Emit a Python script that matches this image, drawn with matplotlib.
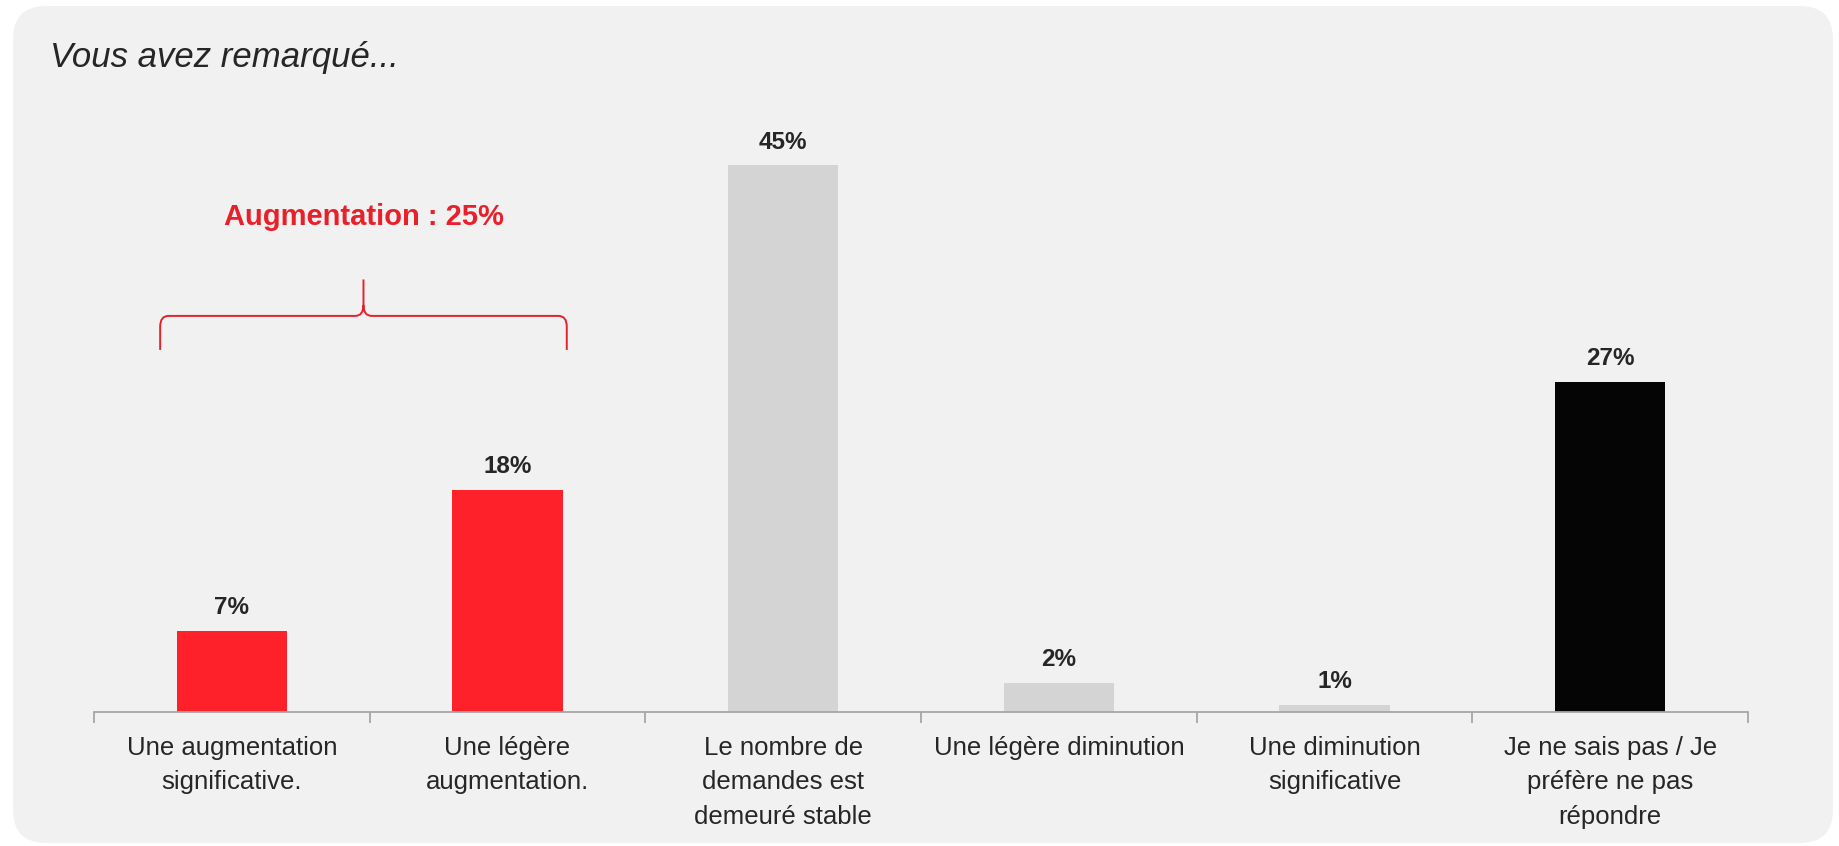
import matplotlib.pyplot as plt
import numpy as np
from matplotlib.patches import FancyBboxPatch, PathPatch
from matplotlib.path import Path

categories = ["Une augmentation\nsignificative.",
              "Une légère\naugmentation.",
              "Le nombre de\ndemandes est\ndemeuré stable",
              "Une légère diminution",
              "Une diminution\nsignificative",
              "Je ne sais pas / Je\npréfère ne pas\nrépondre"]
values = [6.7, 18.3, 45, 2.4, 0.6, 27.2]
colors = ["#ff2129", "#ff2129", "#d4d4d4", "#d4d4d4", "#d4d4d4", "#050505"]
group_label = "Augmentation : 25%"

W, H = 1840, 846
fig = plt.figure(figsize=(W / 100, H / 100), dpi=100, facecolor="white")

# rounded grey panel behind everything
panel = FancyBboxPatch((13 / W, 3 / H), 1820 / W, 837 / H,
                       boxstyle="round,pad=0,rounding_size=0.018",
                       transform=fig.transFigure, facecolor="#f1f1f1",
                       edgecolor="none", mutation_aspect=W / H, zorder=-10)
fig.patches.append(panel)

ax = fig.add_axes([94 / W, 134 / H, (1748 - 94) / W, 607.5 / H])
ax.set_facecolor("none")

x = np.arange(len(values))
ax.bar(x, values, width=0.4, color=colors)
ax.set_xlim(-0.5, len(values) - 0.5)
ax.set_ylim(0, 50)

for xi, v in zip(x, values):
    ax.annotate(f"{v:.0f}%", (xi, v), xytext=(0, 12), textcoords="offset points",
                ha="center", va="baseline", fontsize=17.5, fontweight="bold",
                color="#262626", family="Liberation Sans")

for s in ["top", "right", "left"]:
    ax.spines[s].set_visible(False)
ax.spines["bottom"].set_color("#a6a6a6")
ax.spines["bottom"].set_linewidth(1.3)
ax.set_yticks([])

ax.set_xticks(np.arange(-0.5, len(values)), minor=False)
ax.set_xticklabels([])
ax.tick_params(axis="x", which="major", length=8, width=1.3, color="#a6a6a6",
               direction="out")
ax.set_xticks(x, minor=True)
ax.set_xticklabels(categories, minor=True, fontsize=18.5,
                   family="Liberation Sans", color="#262626",
                   linespacing=1.55, va="top")
ax.tick_params(axis="x", which="minor", length=0, pad=17)

# brace over the first two bars
x0, x1 = -0.26, 1.215
xm = (x0 + x1) / 2
yb, yh, yt = 29.8, 32.6, 35.6
rx, ry = 0.03, 0.9
verts = [(x0, yb), (x0, yh - ry), (x0, yh), (x0 + rx, yh),
         (xm - rx, yh), (xm, yh), (xm, yh + ry), (xm, yt),
         (xm, yh + ry), (xm, yh), (xm + rx, yh),
         (x1 - rx, yh), (x1, yh), (x1, yh - ry), (x1, yb)]
codes = [Path.MOVETO, Path.LINETO, Path.CURVE3, Path.CURVE3,
         Path.LINETO, Path.CURVE3, Path.CURVE3, Path.LINETO,
         Path.MOVETO, Path.CURVE3, Path.CURVE3,
         Path.LINETO, Path.CURVE3, Path.CURVE3, Path.LINETO]
ax.add_patch(PathPatch(Path(verts, codes), facecolor="none",
                       edgecolor="#e8202a", linewidth=1.4, clip_on=False))
ax.text(xm, 40.7, group_label, ha="center", va="center", fontsize=21,
        fontweight="bold", color="#e8202a", family="Liberation Sans")

fig.text(50 / W, 1 - 57 / H, "Vous avez remarqué...", ha="left", va="center",
         fontsize=25, style="italic", color="#262626", family="Liberation Sans")

plt.savefig("out.png", dpi=100, facecolor="white")
plt.close()
